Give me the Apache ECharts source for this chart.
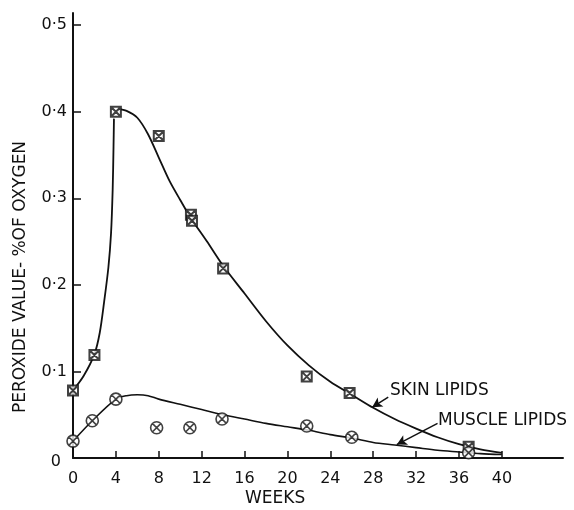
<!DOCTYPE html>
<html><head><meta charset="utf-8">
<script src="https://cdn.jsdelivr.net/npm/echarts@6/dist/echarts.min.js"></script>
<style>html,body{margin:0;padding:0;background:#fff}#c{width:574px;height:510px}</style>
</head><body><div id="c"></div>
<script>
// ---- data ----
const xTickValues = [0, 4, 8, 12, 16, 20, 24, 28, 32, 36, 40];
const yTickValues = [0, 0.1, 0.2, 0.3, 0.4, 0.5];

const skinWeeks  = [0, 2, 4, 8, 11, 11.1, 14, 21.8, 25.8, 36.9];
const skinValues = [0.078, 0.119, 0.400, 0.372, 0.281, 0.274, 0.219, 0.094, 0.075, 0.013];

const muscleWeeks  = [0, 1.8, 4, 7.8, 10.9, 13.9, 21.8, 26, 36.9];
const muscleValues = [0.0195, 0.043, 0.068, 0.035, 0.035, 0.045, 0.037, 0.024, 0.006];

// fitted curves as drawn in the figure
const skinRiseWeeks  = [0, 1, 2, 2.5, 2.9, 3.3, 3.55, 3.7, 3.78, 3.82];
const skinRiseValues = [0.078, 0.095, 0.12, 0.145, 0.18, 0.22, 0.26, 0.31, 0.36, 0.392];

const skinFallWeeks  = [4.2, 5, 6, 7, 8, 9, 10, 11, 12.5, 14, 16, 18, 20, 22, 24, 26, 28, 30, 32, 34, 36, 38, 40];
const skinFallValues = [0.403, 0.401, 0.393, 0.374, 0.347, 0.320, 0.298, 0.277, 0.25, 0.222, 0.19, 0.158, 0.13, 0.107, 0.088, 0.073, 0.058, 0.045, 0.034, 0.024, 0.016, 0.010, 0.006];

const muscleCurveWeeks  = [0, 1.8, 4, 5, 6, 7, 8, 10, 12, 14, 16, 18, 20, 22, 24, 26, 28, 30, 32, 34, 36, 38, 40];
const muscleCurveValues = [0.0195, 0.043, 0.068, 0.072, 0.073, 0.072, 0.068, 0.062, 0.056, 0.05, 0.045, 0.04, 0.036, 0.032, 0.027, 0.023, 0.018, 0.015, 0.012, 0.009, 0.007, 0.005, 0.004];

const skinLabel = 'SKIN LIPIDS';
const muscleLabel = 'MUSCLE LIPIDS';
const xName = 'WEEKS';
const yName = 'PEROXIDE VALUE- %OF OXYGEN';

// ---- chart ----
const zip = (a, b) => a.map((v, i) => [v, b[i]]);
const FONT = 'DejaVu Sans';
const INK = '#111';

const boxX = 'path://M0,0 L10,0 L10,10 L0,10 Z M0,0 L10,10 M10,0 L0,10';
const circX = 'path://M5,0 A5,5 0 1 1 5,10 A5,5 0 1 1 5,0 Z M1.6,1.6 L8.4,8.4 M8.4,1.6 L1.6,8.4';

const chart = echarts.init(document.getElementById('c'), null, {renderer: 'canvas'});
chart.setOption({
  animation: false,
  backgroundColor: '#fff',
  grid: {left: 73, right: 11, top: 13, bottom: 52},
  xAxis: {
    type: 'value', min: 0, max: 45.7, interval: 4,
    splitLine: {show: false},
    axisLine: {lineStyle: {color: INK, width: 2}},
    axisTick: {inside: true, length: 7, lineStyle: {color: INK, width: 1.5}, customValues: xTickValues},
    axisLabel: {color: INK, fontFamily: FONT, fontSize: 16, margin: 13, customValues: xTickValues,
      formatter: v => String(v)}
  },
  yAxis: {
    type: 'value', min: 0, max: 0.514, interval: 0.1,
    splitLine: {show: false},
    axisLine: {lineStyle: {color: INK, width: 2}},
    axisTick: {inside: true, length: 8, lineStyle: {color: INK, width: 1.5}, customValues: yTickValues.slice(1)},
    axisLabel: {color: INK, fontFamily: FONT, fontSize: 16, margin: 6, customValues: yTickValues,
      formatter: v => v === 0 ? '{z|0}' : v.toFixed(1).replace('.', '·'),
      rich: {z: {fontFamily: FONT, fontSize: 16, color: INK, padding: [8, 6, 0, 0]}}}
  },
  graphic: [
    {type: 'text', x: 245, y: 499, style: {text: xName, fill: INK, font: '17px "DejaVu Sans"', textAlign: 'left', textVerticalAlign: 'middle'}},
    {type: 'text', x: 21, y: 277, rotation: Math.PI / 2, style: {text: yName, fill: INK, font: '17px "DejaVu Sans"', textAlign: 'center', textVerticalAlign: 'middle'}},
    {type: 'text', x: 390, y: 391, style: {text: skinLabel, fill: INK, font: '17px "DejaVu Sans"', textAlign: 'left', textVerticalAlign: 'middle'}},
    {type: 'text', x: 438, y: 421, style: {text: muscleLabel, fill: INK, font: '17px "DejaVu Sans"', textAlign: 'left', textVerticalAlign: 'middle'}}
  ],
  series: [
    {type: 'line', data: zip(skinRiseWeeks, skinRiseValues), smooth: 0.3, showSymbol: false,
      lineStyle: {color: INK, width: 1.8}, silent: true},
    {type: 'line', data: zip(skinFallWeeks, skinFallValues), smooth: 0.3, showSymbol: false,
      lineStyle: {color: INK, width: 1.8}, silent: true,
      markLine: {silent: true, symbol: ['none', 'arrow'], symbolSize: [8, 10],
        lineStyle: {color: INK, width: 1.5, type: 'solid'}, label: {show: false},
        data: [
          [{coord: [29.4, 0.0704]}, {coord: [27.9, 0.0585]}],
          [{coord: [34.0, 0.0400]}, {coord: [30.2, 0.0155]}]
        ]}},
    {type: 'line', data: zip(muscleCurveWeeks, muscleCurveValues), smooth: 0.3, showSymbol: false,
      lineStyle: {color: INK, width: 1.6}, silent: true},
    {type: 'scatter', data: zip(skinWeeks, skinValues), symbol: boxX, symbolSize: 10,
      itemStyle: {color: '#fff', borderColor: INK, borderWidth: 2}, z: 5},
    {type: 'scatter', data: zip(muscleWeeks, muscleValues), symbol: circX, symbolSize: 12,
      itemStyle: {color: '#fff', borderColor: INK, borderWidth: 1.6}, z: 5}
  ]
});
</script>
</body></html>
